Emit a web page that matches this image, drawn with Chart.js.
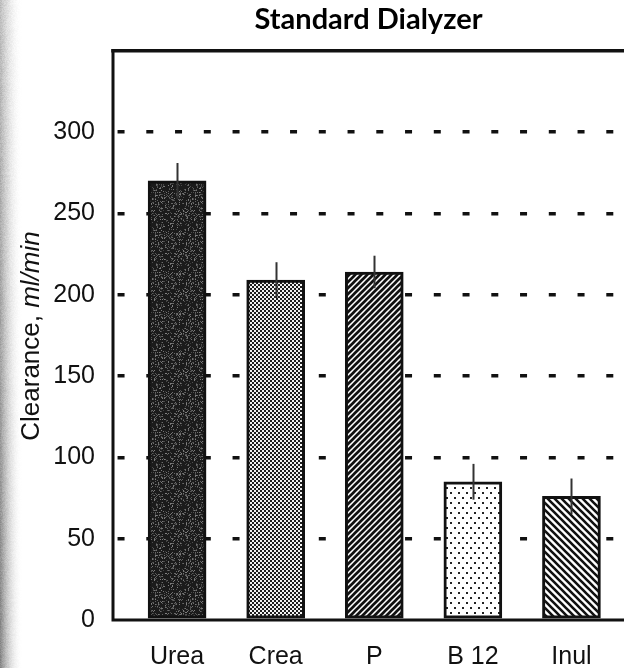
<!DOCTYPE html>
<html lang="en">
<head>
<meta charset="UTF-8" />
<title>Standard Dialyzer</title>
<script src="https://cdn.jsdelivr.net/npm/chart.js"></script>
<style>
    html, body { margin: 0; padding: 0; background: #fff; }
    #wrap { width: 624px; height: 668px; position: relative; }
</style>
</head>
<body>
<div id="wrap"><canvas id="clearanceChart"></canvas></div>
<script>
    // clearance per solute, ml/min (mean and SD)
    const categories = ['Urea', 'Crea', 'P', 'B 12', 'Inul'];
    const clearance = [270, 209, 214, 85, 76];
    const clearanceSd = [11, 11, 10, 11, 11];
    const yTicks = [0, 50, 100, 150, 200, 250, 300];

    const INK = '#111';
    const LABEL_FONT = '"Liberation Sans", Arial, Helvetica, sans-serif';

    // small deterministic hash for grain textures
    function hash(x, y) {
        let h = (x * 374761393 + y * 668265263) | 0;
        h = (h ^ (h >>> 13)) * 1274126177;
        h = h ^ (h >>> 16);
        return (h >>> 0) / 4294967295;
    }

    function makeTile(w, h, draw) {
        const c = document.createElement('canvas');
        c.width = w; c.height = h;
        const g = c.getContext('2d');
        draw(g, w, h);
        return document.createElement('canvas').getContext('2d').createPattern(c, 'repeat');
    }

    // Urea: dark grainy fill
    const grainFill = makeTile(40, 40, (g, w, h) => {
        g.fillStyle = '#1b1b1b';
        g.fillRect(0, 0, w, h);
        for (let y = 0; y < h; y++) {
            for (let x = 0; x < w; x++) {
                const r = hash(x, y);
                if (r > 0.75) {
                    const v = 60 + Math.floor(hash(y, x) * 70);
                    g.fillStyle = `rgb(${v},${v},${v})`;
                    g.fillRect(x, y, 1, 1);
                }
            }
        }
    });

    // Crea: fine checker, reads as mid grey
    const meshFill = makeTile(4, 4, (g) => {
        g.fillStyle = '#1e1e1e';
        g.fillRect(0, 0, 4, 4);
        g.fillStyle = '#f2f2f2';
        g.fillRect(0, 0, 2, 2);
        g.fillRect(2, 2, 2, 2);
    });

    // P: forward hatch
    const hatchFwd = makeTile(6, 6, (g, s) => {
        g.fillStyle = '#fff';
        g.fillRect(0, 0, s, s);
        g.strokeStyle = '#111';
        g.lineWidth = 2.7;
        g.beginPath();
        g.moveTo(0, s); g.lineTo(s, 0);
        g.moveTo(-1, 1); g.lineTo(1, -1);
        g.moveTo(s - 1, s + 1); g.lineTo(s + 1, s - 1);
        g.stroke();
    });

    // B 12: sparse staggered dots
    const dotFill = makeTile(8, 10, (g) => {
        g.fillStyle = '#fff';
        g.fillRect(0, 0, 8, 10);
        g.fillStyle = '#222';
        g.fillRect(2, 2, 2, 2);
        g.fillRect(6, 7, 2, 2);
    });

    // Inul: backward hatch
    const hatchBack = makeTile(7, 7, (g, s) => {
        g.fillStyle = '#fff';
        g.fillRect(0, 0, s, s);
        g.strokeStyle = '#111';
        g.lineWidth = 2.6;
        g.beginPath();
        g.moveTo(0, 0); g.lineTo(s, s);
        g.moveTo(-1, s - 1); g.lineTo(1, s + 1);
        g.moveTo(s - 1, -1); g.lineTo(s + 1, 1);
        g.stroke();
    });

    const barFills = [grainFill, meshFill, hatchFwd, dotFill, hatchBack];

    // grey scanner edge on the far left
    const edgeStrip = {
        id: 'edgeStrip',
        beforeDraw(chart) {
            const ctx = chart.ctx;
            const H = chart.height;
            ctx.save();
            for (let y = 0; y < H; y++) {
                const dark = 0.35 + 0.3 * (y / H);
                for (let x = 0; x < 22; x++) {
                    const fade = 1 - x / 22;
                    const n = hash(x + 7, y + 3) - 0.5;
                    const a = Math.max(0, fade * fade * dark + n * 0.12 * fade);
                    ctx.fillStyle = `rgba(70,70,70,${a.toFixed(3)})`;
                    ctx.fillRect(x, y, 1, 1);
                }
            }
            ctx.restore();
        }
    };

    // plot frame: top rule, left axis, baseline
    const plotFrame = {
        id: 'plotFrame',
        afterDatasetsDraw(chart) {
            const { ctx, chartArea: a } = chart;
            ctx.save();
            ctx.strokeStyle = INK;
            ctx.lineCap = 'square';
            ctx.lineWidth = 3.5;
            ctx.beginPath();
            ctx.moveTo(a.left, a.top); ctx.lineTo(chart.width + 2, a.top);
            ctx.stroke();
            ctx.lineWidth = 3;
            ctx.beginPath();
            ctx.moveTo(a.left, a.top); ctx.lineTo(a.left, a.bottom);
            ctx.moveTo(a.left, a.bottom); ctx.lineTo(chart.width + 2, a.bottom);
            ctx.stroke();
            ctx.restore();
        }
    };

    // SD whiskers, no caps
    const sdWhiskers = {
        id: 'sdWhiskers',
        afterDatasetsDraw(chart) {
            const { ctx, scales: { x, y } } = chart;
            ctx.save();
            ctx.strokeStyle = '#333';
            ctx.lineWidth = 2;
            clearance.forEach((v, i) => {
                const px = Math.round(x.getPixelForValue(i)) + 0.5;
                ctx.beginPath();
                ctx.moveTo(px, y.getPixelForValue(v + clearanceSd[i]));
                ctx.lineTo(px, y.getPixelForValue(v - clearanceSd[i]));
                ctx.stroke();
            });
            ctx.restore();
        }
    };

    // y axis title with italic unit
    const yTitle = {
        id: 'yTitle',
        afterDraw(chart) {
            const ctx = chart.ctx;
            const plain = 'Clearance, ';
            const unit = 'ml/min';
            const fPlain = `26px ${LABEL_FONT}`;
            const fUnit = `italic 26px ${LABEL_FONT}`;
            ctx.save();
            ctx.font = fPlain;
            const w1 = ctx.measureText(plain).width;
            ctx.font = fUnit;
            const w2 = ctx.measureText(unit).width;
            ctx.translate(32, 336);
            ctx.rotate(-Math.PI / 2);
            ctx.fillStyle = INK;
            ctx.textBaseline = 'middle';
            ctx.textAlign = 'left';
            const start = -(w1 + w2) / 2;
            ctx.font = fPlain;
            ctx.fillText(plain, start, 0);
            ctx.font = fUnit;
            ctx.fillText(unit, start + w1, 0);
            ctx.restore();
        }
    };

    new Chart(document.getElementById('clearanceChart'), {
        type: 'bar',
        data: {
            datasets: [{
                data: categories.map((c, i) => ({ x: i, y: clearance[i] })),
                backgroundColor: barFills,
                borderColor: INK,
                borderWidth: 3,
                borderSkipped: false,
                barThickness: 58
            }]
        },
        options: {
            responsive: true,
            maintainAspectRatio: false,
            animation: false,
            events: [],
            layout: { padding: 0 },
            plugins: {
                legend: { display: false },
                tooltip: { enabled: false },
                title: {
                    display: true,
                    fullSize: false,
                    text: 'Standard Dialyzer',
                    color: '#000',
                    font: { family: 'Lato, "Open Sans", sans-serif', size: 29, weight: 'bold' },
                    padding: { top: 2, bottom: 14 }
                }
            },
            scales: {
                x: {
                    type: 'linear',
                    offset: false,
                    min: -0.65,
                    max: 4.533,
                    grid: { display: false },
                    border: { display: false },
                    afterBuildTicks(scale) {
                        scale.ticks = categories.map((c, i) => ({ value: i }));
                    },
                    afterFit(scale) { scale.height = 48; },
                    ticks: {
                        autoSkip: false,
                        maxRotation: 0,
                        padding: 14,
                        color: INK,
                        font: { family: LABEL_FONT, size: 25 },
                        callback: (v) => categories[v]
                    }
                },
                y: {
                    min: 0,
                    max: 350,
                    afterBuildTicks(scale) {
                        scale.ticks = yTicks.concat([350]).map(v => ({ value: v }));
                    },
                    afterFit(scale) { scale.width = 113; },
                    grid: {
                        drawTicks: false,
                        lineWidth: 3.5,
                        color: (ctx) => (ctx.tick && ctx.tick.value > 0 && ctx.tick.value <= 300) ? INK : 'rgba(0,0,0,0)'
                    },
                    border: { display: false, dash: [7, 21.75], dashOffset: 24.2 },
                    ticks: {
                        padding: 18,
                        color: INK,
                        font: { family: LABEL_FONT, size: 25 },
                        callback: (v) => (v <= 300 ? v : '')
                    }
                }
            }
        },
        plugins: [edgeStrip, sdWhiskers, plotFrame, yTitle]
    });
</script>
</body>
</html>
